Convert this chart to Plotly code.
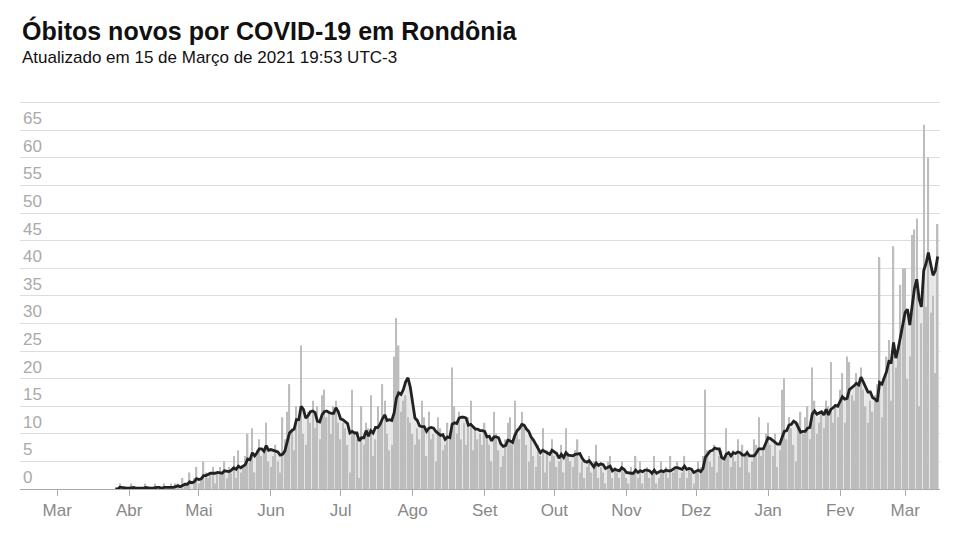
import pandas as pd
import plotly.graph_objects as go

start_date = "2020-03-26"
mar20 = [0,0,1,0,0,0]
apr20 = [0,1,0,0,0,0,0,1,0,0,0,1,0,0,0,1,0,0,1,0,1,1,0,2,1,1,3,0,2,4]
may20 = [1,2,5,3,2,3,4,1,3,4,3,5,2,4,3,6,2,7,3,4,6,10,5,11,3,7,9,6,7,12,5]
jun20 = [4,6,8,5,3,13,9,14,19,11,7,15,13,26,10,8,14,12,16,11,15,9,17,18,13,14,10,15,16,12]
jul20 = [9,12,11,8,3,18,10,9,2,15,8,12,11,17,6,9,15,12,19,16,10,7,8,24,31,26,14,16,17,13,12]
aug20 = [10,8,11,9,16,13,6,14,9,10,5,13,11,7,8,12,9,22,15,10,14,9,12,8,13,16,7,11,9,10,8]
sep20 = [12,9,8,5,14,10,7,4,6,9,12,13,8,16,10,9,14,11,8,5,9,6,4,8,6,11,3,7,5,9]
oct20 = [6,4,5,8,3,11,6,5,4,7,9,3,5,2,4,6,3,5,8,2,4,3,1,5,6,2,4,3,2,5,3]
nov20 = [2,1,4,3,6,2,5,1,3,4,2,3,6,1,2,5,3,4,2,6,3,4,5,2,3,6,2,4,3,1]
dec20 = [3,5,4,6,18,7,5,4,8,3,6,7,5,11,6,4,7,5,9,4,8,6,7,3,5,9,8,13,6,7,10]
jan21 = [12,8,6,10,4,7,18,20,9,13,11,8,5,12,14,10,13,15,9,22,16,10,12,14,11,16,15,23,12,15,13]
feb21 = [18,21,12,24,23,17,16,21,19,22,18,15,12,16,14,17,19,42,13,20,24,27,16,44,22,25,37,40]
mar21 = [40,20,24,46,47,49,15,30,66,33,60,32,35,21,48]

month_ticks = ["2020-03-01","2020-04-01","2020-05-01","2020-06-01","2020-07-01","2020-08-01",
               "2020-09-01","2020-10-01","2020-11-01","2020-12-01","2021-01-01","2021-02-01","2021-03-01"]
month_labels = ["Mar","Abr","Mai","Jun","Jul","Ago","Set","Out","Nov","Dez","Jan","Fev","Mar"]

values = mar20+apr20+may20+jun20+jul20+aug20+sep20+oct20+nov20+dec20+jan21+feb21+mar21
dates = pd.date_range(start_date, periods=len(values), freq="D")
s = pd.Series(values, index=dates)
avg = s.rolling(7, min_periods=1).mean()

DAY_MS = 86400000
fig = go.Figure()
fig.add_trace(go.Bar(x=dates, y=avg, width=DAY_MS, marker=dict(color="#e6e6e6", line_width=0), hoverinfo="skip"))
fig.add_trace(go.Bar(x=dates, y=values, width=DAY_MS*0.6, marker=dict(color="#bdbdbd", line_width=0)))
fig.add_trace(go.Scatter(x=dates, y=avg, mode="lines", line=dict(width=2.8, color="#222222")))

W, H = 944, 524
L, R, T, B = 12, 12, 93, 41
fig.update_layout(
    width=W, height=H, showlegend=False, plot_bgcolor="white", paper_bgcolor="white",
    margin=dict(l=L, r=R, t=T, b=B), barmode="overlay",
    font=dict(family="Liberation Sans, Arial, sans-serif"),
    xaxis=dict(range=["2020-02-14","2021-03-16"], tickvals=month_ticks, ticktext=month_labels,
               showgrid=False, showline=True, linecolor="#aaaaaa", ticks="outside", tickcolor="#aaaaaa",
               ticklen=6, tickfont=dict(size=17, color="#888888")),
    yaxis=dict(range=[0,70.3], tickvals=list(range(0,75,5)), showgrid=True, gridcolor="#dddddd", zeroline=False,
               ticklabelposition="inside top", tickfont=dict(size=17, color="#aaaaaa")),
)
h_plot = H-T-B
fig.add_annotation(text="<b>Óbitos novos por COVID-19 em Rondônia</b>", x=0, y=1+(T-6)/h_plot,
                   xref="paper", yref="paper", xanchor="left", yanchor="top", showarrow=False,
                   font=dict(size=25, color="#111111"))
fig.add_annotation(text="Atualizado em 15 de Março de 2021 19:53 UTC-3", x=0, y=1+(T-38)/h_plot,
                   xref="paper", yref="paper", xanchor="left", yanchor="top", showarrow=False,
                   font=dict(size=17, color="#111111"))
fig.write_html("out.html")
